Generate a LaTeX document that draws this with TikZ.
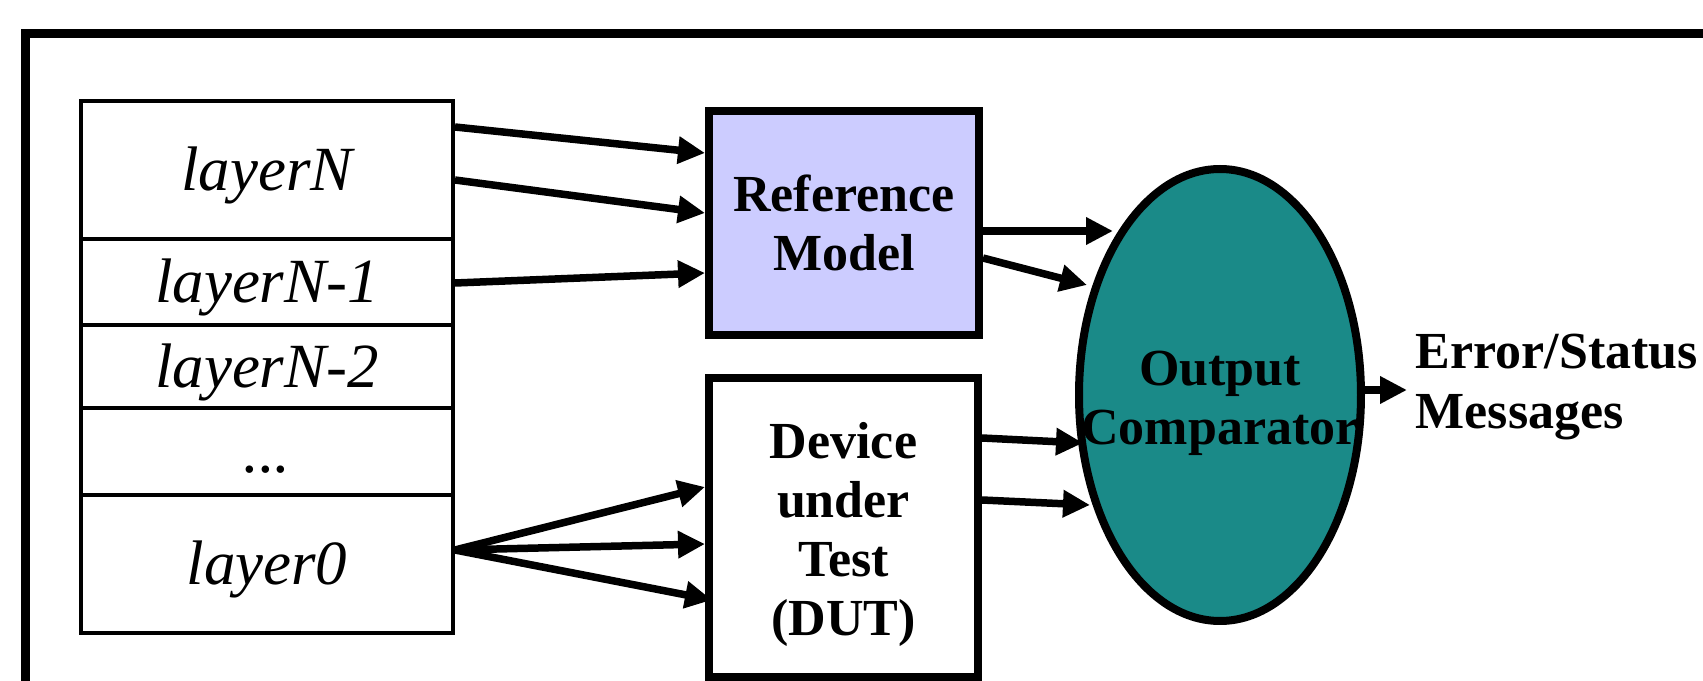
\documentclass[tikz,border=0pt]{standalone}
\usepackage{fontspec}
\setmainfont{Liberation Serif}
\usetikzlibrary{arrows.meta,shapes.geometric,calc}
\definecolor{lav}{RGB}{204,204,255}
\definecolor{tealc}{RGB}{26,138,136}
\newcommand{\layerfont}{\fontsize{17.9pt}{21pt}\selectfont\itshape}
\newcommand{\boldfnt}{\fontsize{14.8pt}{16.7pt}\selectfont\bfseries}
\tikzset{
  layer/.style={draw, line width=0.4mm, minimum width=37.2mm, inner sep=0pt,
    font=\layerfont, text height=4.2mm, text depth=0pt},
  arr/.style={line width=0.75mm, -{Triangle[length=2.7mm,width=2.6mm]}},
  blk/.style={draw, line width=0.8mm, inner sep=0pt, align=center, font=\boldfnt},
  lbl/.style={font=\boldfnt, align=center, inner sep=0pt},
}
\begin{document}
\begin{tikzpicture}[x=0.1mm,y=-0.1mm]
\useasboundingbox (0,0) rectangle (1703,681);
\clip (0,0) rectangle (1703,681);
\fill[white] (0,0) rectangle (1703,681);
% outer frame (cropped)
\draw[line width=0.9mm] (1760,34) -- (25,34) -- (25,760);
% layer stack
\node[layer, minimum height=13.8mm] (layerN)  at (267,170)   {layerN};
\node[layer, minimum height=8.6mm]  (layerN1) at (267,282)   {layerN-1};
\node[layer, minimum height=8.3mm]  (layerN2) at (267,366.5) {layerN-2};
\node[layer, minimum height=8.7mm]  (ldots)   at (267,451.5) {...};
\node[layer, minimum height=13.8mm] (layer0)  at (267,564)   {layer0};
% blocks
\node[blk, fill=lav, minimum width=27mm, minimum height=22.4mm] (ref) at (844,223) {Reference\\Model};
\node[blk, minimum width=26.9mm, minimum height=29.9mm] (dut) at (843.5,527.5) {};
\node[lbl] (duttext) at ($(dut.center)+(0,7)$) {Device\\under\\Test\\(DUT)};
\node[draw, ellipse, line width=0.8mm, fill=tealc, minimum width=28.2mm, minimum height=45.2mm, inner sep=0pt] (cmp) at (1220,395) {};
\node[lbl] (cmptext) at ($(cmp.center)+(0,8)$) {Output\\Comparator};
\node[font=\boldfnt, align=left, anchor=west, inner sep=0.8mm] (msg) at (1407,387) {Error/Status\\[0.5pt]Messages};
% arrows into reference model
\draw[arr] (layerN.east |- 0,127) -- (ref.west |- 0,153);
\draw[arr] (layerN.east |- 0,180) -- (ref.west |- 0,213);
\draw[arr] (layerN1.east |- 0,283) -- (ref.west |- 0,273);
% arrows into DUT
\draw[arr] (layer0.east |- 0,550) -- (dut.west |- 0,487);
\draw[arr] (layer0.east |- 0,550) -- (dut.west |- 0,544);
\draw[arr] (layer0.east |- 0,550) -- ($(dut.west |- 0,600)+(7,0)$);
% arrows into comparator
\draw[arr] (ref.east |- 0,231) -- ($(cmp.center)+(-107,-164)$);
\draw[arr] (ref.east |- 0,258) -- ($(cmp.center)+(-133,-110)$);
\draw[arr] (dut.east |- 0,438) -- ($(cmp.center)+(-137,48)$);
\draw[arr] (dut.east |- 0,500) -- ($(cmp.center)+(-130,110)$);
% output arrow
\draw[arr] (cmp.east |- 0,390) -- (msg.west |- 0,390);
\end{tikzpicture}
\end{document}
